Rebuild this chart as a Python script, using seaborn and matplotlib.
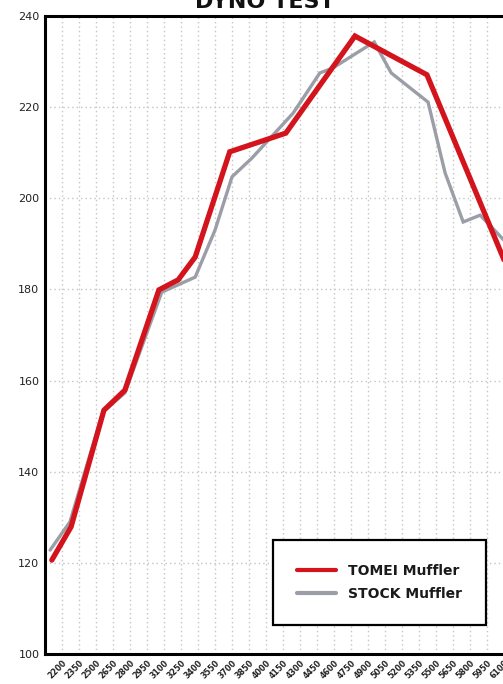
import matplotlib
matplotlib.use("Agg")
import matplotlib.pyplot as plt
from matplotlib.lines import Line2D
import numpy as np
import pandas as pd
import seaborn as sns

# ---- data ----
tomei_rpm = [2110, 2280, 2570, 2755, 3055, 3225, 3375, 3680, 4175, 4785, 5420, 6100]
tomei_hp = [120.6, 127.9, 153.5, 157.9, 179.9, 182.1, 187.1, 210.2, 214.3, 235.6, 227.1, 186.5]

stock_rpm = [2095, 2270, 2560, 2755, 3080, 3375, 3550, 3700, 3875, 4240, 4475, 4590,
             4955, 5105, 5430, 5580, 5740, 5890, 6100]
stock_hp = [122.8, 129.0, 153.1, 157.3, 179.4, 182.7, 193.0, 204.7, 208.8, 218.7, 227.5, 228.6,
            234.3, 227.5, 221.1, 205.6, 194.8, 196.3, 190.8]

x_ticks = [2200, 2350, 2500, 2650, 2800, 2950, 3100, 3250, 3400, 3550, 3700, 3850, 4000,
           4150, 4300, 4450, 4600, 4750, 4900, 5050, 5200, 5350, 5500, 5650, 5800, 5950, 6100]
x_tick_labels = [str(v) for v in x_ticks]
y_ticks = [100, 120, 140, 160, 180, 200, 220, 240]
y_tick_labels = [str(v) for v in y_ticks]

series_names = ["TOMEI Muffler", "STOCK Muffler"]
RED = "#d3141c"
GRAY = "#9b9da7"

df_tomei = pd.DataFrame({"rpm": tomei_rpm, "hp": tomei_hp})
df_stock = pd.DataFrame({"rpm": stock_rpm, "hp": stock_hp})

sns.set_style("white")
plt.rcParams["font.family"] = ["DejaVu Sans"]

W, H = 503, 684
fig = plt.figure(figsize=(W / 100, H / 100), dpi=100)
fig.patch.set_facecolor("white")

# axes: left spine at x=45 px, top at y=16 px, bottom at y=654 px; extends past right edge
ax = fig.add_axes([45 / W, 30 / H, 465 / W, 638 / H])

sns.lineplot(data=df_stock, x="rpm", y="hp", sort=False, estimator=None, ax=ax,
             color=GRAY, linewidth=2.4, solid_joinstyle="miter", zorder=3)
sns.lineplot(data=df_tomei, x="rpm", y="hp", sort=False, estimator=None, ax=ax,
             color=RED, linewidth=3.8, solid_joinstyle="miter", zorder=4)

ax.set_xlim(2050, 6153)
ax.set_ylim(100, 240)
ax.set_xticks(x_ticks)
ax.set_xticklabels(x_tick_labels, rotation=45, ha="right", va="top",
                   rotation_mode="anchor", fontsize=5.8, fontweight="bold", color="#222222")
ax.set_yticks(y_ticks)
ax.set_yticklabels(y_tick_labels, fontsize=8, color="#222222")
ax.tick_params(axis="both", length=0)
ax.tick_params(axis="y", pad=4)
ax.tick_params(axis="x", pad=3)
ax.set_xlabel("")
ax.set_ylabel("")

ax.grid(True, color="#c4c4c4", linestyle=(0, (1, 2.2)), linewidth=1.0, zorder=0)
ax.set_axisbelow(True)
for s in ["left", "bottom", "top", "right"]:
    ax.spines[s].set_visible(True)
    ax.spines[s].set_color("black")
    ax.spines[s].set_linewidth(2.2)

# legend
handles = [Line2D([0], [0], color=RED, linewidth=3.0),
           Line2D([0], [0], color=GRAY, linewidth=3.0)]
leg = ax.legend(handles, series_names, loc="upper left",
                bbox_to_anchor=(273 / W, 1 - 540 / H), bbox_transform=fig.transFigure,
                frameon=True, fancybox=False, framealpha=1, edgecolor="black",
                prop={"family": "DejaVu Sans", "weight": "bold", "size": 10},
                handlelength=2.8, handletextpad=0.85, borderpad=1.75, labelspacing=0.6,
                borderaxespad=0)
leg.get_frame().set_linewidth(1.6)
leg.set_zorder(10)
for t in leg.get_texts():
    t.set_color("#1a1a1a")

# title (cut off by the top edge, as in the reference)
fig.text(265 / W, 1 - 8 / H, "DYNO TEST", ha="center", va="baseline",
         fontsize=16, fontweight="bold", color="#111111")

fig.savefig("out.png", dpi=100, facecolor="white")
